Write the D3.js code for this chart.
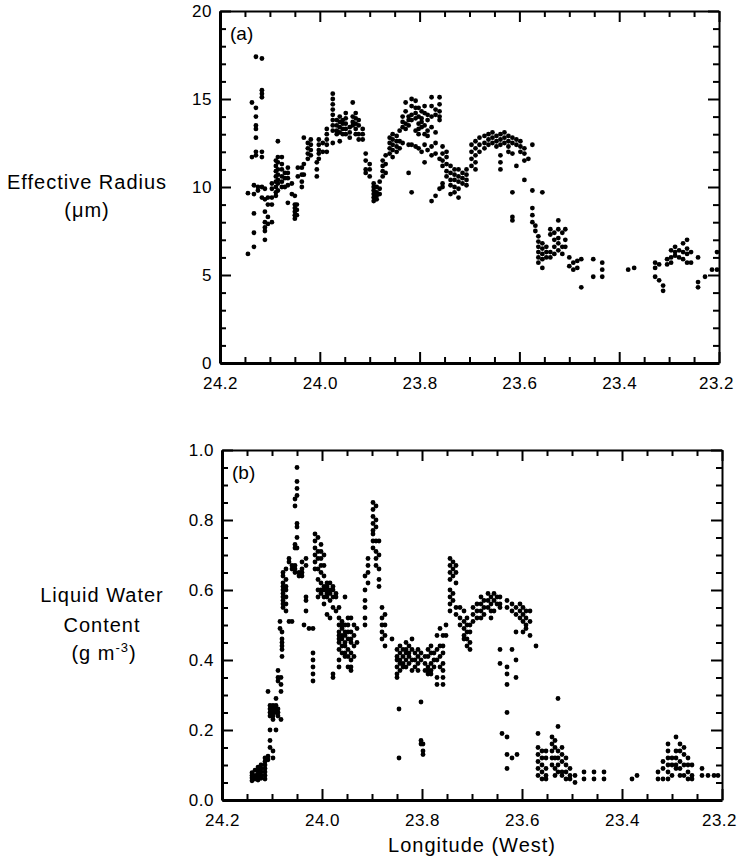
<!DOCTYPE html>
<html lang="en">
  <head>
    <meta charset="UTF-8" />
    <title>Effective radius and liquid water content</title>
    <style>
      body { margin: 0; background: #fff; }
      svg { display: block; font-family: "Liberation Sans", Arial, sans-serif; }
      .axis path, .axis line { stroke: #000; }
      .axis text { font-size: 17px; letter-spacing: 0.5px; fill: #000; }
      .title { font-size: 20px; letter-spacing: 1px; fill: #000; }
    </style>
  </head>
  <body>
    <svg id="chart" width="738" height="862"></svg>
    <script src="https://cdn.jsdelivr.net/npm/d3@7"></script>
    <script>
      // tick labels
      const lonTicks = [24.2, 24.0, 23.8, 23.6, 23.4, 23.2];
      const radiusTicks = [0, 5, 10, 15, 20];
      const lwcTicks = [0, 0.2, 0.4, 0.6, 0.8, 1.0];

      // effective radius (um): [longitude, [values at that longitude]]
      const radiusCols = [
        [24.144, [9.65, 6.2]], [24.136, [14.8, 11.7]], [24.132, [10.1, 9.6, 8.5, 7.4, 6.6]],
        [24.128, [17.4, 14.5, 14.0, 13.5, 13.3, 12.8, 12.0, 11.8]], [24.124, [10.0, 9.8]],
        [24.116, [17.3, 15.5, 15.3, 15.1, 12.0, 11.7, 10.0, 9.4]], [24.110, [9.9, 9.3, 8.6, 8.0, 7.7, 7.5, 7.0]],
        [24.104, [9.4, 9.0, 8.3, 7.9]], [24.096, [10.2, 9.9, 9.4, 9.0, 8.0]],
        [24.088, [11.5, 11.2, 10.9, 10.6, 10.3, 10.0, 9.7, 9.5]], [24.084, [12.6, 11.7, 11.4, 11.0, 10.7, 10.4, 10.2, 9.8]],
        [24.076, [11.7, 11.3, 11.0, 10.6, 10.3, 10.0]], [24.070, [10.8, 10.5, 10.0]],
        [24.064, [11.1, 10.8, 10.5, 10.1, 9.1]], [24.056, [10.2, 9.6]],
        [24.050, [9.5, 9.0, 8.8, 8.6, 8.4, 8.2]], [24.046, [9.0, 8.7, 8.4]], [24.044, [11.1, 10.6]],
        [24.036, [11.1, 10.7, 10.3, 10.0]], [24.032, [12.8, 11.3, 10.7]], [24.024, [12.5, 12.2, 11.9, 11.6]],
        [24.018, [12.7, 12.4, 12.1, 11.8]], [24.006, [11.4, 11.0, 10.6]], [24.002, [12.7, 12.4, 12.1, 11.9, 11.6]],
        [23.994, [12.5, 12.0]], [23.986, [13.3, 13.0, 12.7, 12.4, 12.0]],
        [23.974, [15.3, 15.0, 14.7, 14.4, 14.1, 13.8, 13.5, 13.2, 12.5]], [23.966, [13.8, 13.5, 13.2, 13.0]],
        [23.960, [14.0, 13.7, 13.4, 13.1, 12.6]], [23.954, [13.8, 13.6, 13.3, 13.0]],
        [23.948, [14.2, 13.9, 13.6, 13.3, 13.0]], [23.940, [13.4, 13.1, 12.8]], [23.934, [14.8, 14.0, 13.7, 13.5]],
        [23.928, [14.2, 13.9, 13.6, 13.3, 13.0]], [23.922, [13.8, 13.5, 13.0, 12.7]], [23.914, [13.3, 13.0, 12.7]],
        [23.908, [11.9, 11.5, 11.0, 10.8]], [23.900, [11.3, 11.0, 10.6]],
        [23.892, [10.2, 10.0, 9.8, 9.6, 9.4, 9.2]], [23.886, [10.0, 9.7, 9.5, 9.3]], [23.880, [10.3, 9.9, 9.6]],
        [23.874, [11.5, 11.2, 10.9, 10.6]], [23.868, [11.8, 11.3, 10.8]], [23.860, [12.8, 12.5, 12.2, 11.9]],
        [23.854, [13.0, 12.7, 12.4, 12.1, 11.7]], [23.846, [12.9, 12.6, 12.3, 12.0]], [23.840, [13.2, 12.6, 12.2]],
        [23.834, [14.0, 13.7, 13.4, 12.5]], [23.828, [14.8, 14.3, 13.6, 13.3]],
        [23.822, [14.0, 13.8, 13.5, 12.4, 10.8]], [23.816, [15.0, 14.6, 14.1, 13.8, 12.4, 9.7]],
        [23.808, [14.9, 14.5, 14.2, 13.9, 13.2, 12.3]], [23.802, [14.5, 14.0, 13.6, 13.3, 13.0, 12.2]],
        [23.796, [14.3, 13.9, 13.7, 13.4, 12.0]], [23.790, [14.6, 14.2, 13.5, 13.0, 12.4, 11.4]],
        [23.784, [14.1, 13.8, 13.2, 12.9, 12.1]], [23.776, [15.1, 14.6, 14.0, 13.4, 12.3, 11.8, 9.2]],
        [23.768, [14.4, 14.1, 13.1, 12.5, 11.9, 9.5]], [23.760, [15.1, 14.7, 14.3, 14.0, 13.8, 11.6, 9.9]],
        [23.754, [12.3, 11.9, 11.5, 11.2, 10.2, 10.0]], [23.746, [12.0, 11.7, 11.3, 10.9, 10.6]],
        [23.738, [11.2, 10.8, 10.4, 10.1, 9.6]], [23.730, [11.0, 10.7, 10.4, 10.0, 9.7]],
        [23.722, [11.0, 10.6, 10.3, 9.9, 9.4]], [23.714, [10.8, 10.5, 10.2]], [23.706, [11.0, 10.7, 10.4, 10.1]],
        [23.696, [12.4, 12.0, 11.6, 11.2]], [23.688, [12.6, 12.2, 11.8, 11.4, 11.0]], [23.680, [12.8, 12.4, 12.0]],
        [23.670, [12.9, 12.5, 12.2]], [23.662, [13.0, 12.7, 12.4]], [23.654, [13.1, 12.8, 12.5]],
        [23.646, [12.9, 12.6, 12.3]], [23.638, [13.0, 12.7, 12.4, 11.8, 11.4, 11.0]], [23.630, [13.1, 12.8, 12.5]],
        [23.622, [12.9, 12.6, 12.3, 12.0]], [23.614, [12.8, 12.5, 11.9, 9.7, 8.3, 8.1]],
        [23.606, [12.7, 12.4, 11.2]], [23.598, [12.6, 12.3, 12.0]], [23.590, [12.2, 11.9, 11.5, 10.4]],
        [23.582, [11.6]], [23.574, [12.4, 9.8, 8.8, 8.4, 8.0]], [23.568, [7.8, 7.5]],
        [23.562, [7.2, 6.9, 6.6, 6.3, 6.0, 5.7]], [23.554, [9.7, 6.8, 6.5, 6.2, 5.9, 5.4]],
        [23.546, [6.6, 6.3, 6.0]], [23.538, [7.6, 7.3, 6.3, 6.0]], [23.530, [7.4, 7.0, 6.6, 6.2]],
        [23.522, [8.1, 7.6, 7.1, 6.8, 6.4]], [23.514, [7.4, 6.6, 6.2]], [23.508, [7.6, 7.0, 6.6]],
        [23.500, [6.0, 5.5]], [23.492, [5.7, 5.3]], [23.484, [5.8, 5.4]], [23.476, [5.9, 4.3]],
        [23.452, [5.9, 4.9]], [23.434, [5.7, 5.3, 4.9]], [23.382, [5.3]], [23.370, [5.4]],
        [23.328, [5.7, 5.4, 4.9]], [23.320, [5.6, 4.7]], [23.312, [4.4, 4.1]], [23.304, [5.9, 5.6]],
        [23.296, [6.4, 6.0, 5.7]], [23.288, [6.6, 6.3, 6.1]], [23.280, [6.4, 6.0]], [23.272, [6.8, 6.3, 5.9]],
        [23.264, [7.0, 6.5, 6.2, 5.7]], [23.256, [6.3, 5.7]], [23.242, [6.0, 4.6, 4.3]],
        [23.228, [4.9]], [23.214, [5.3]], [23.204, [6.3, 5.3]]
      ];

      // liquid water content (g m-3): [longitude, [values at that longitude]]
      const lwcCols = [
        [24.140, [0.078, 0.070, 0.063, 0.055]], [24.134, [0.085, 0.070, 0.060]],
        [24.128, [0.094, 0.085, 0.075, 0.066, 0.057]], [24.122, [0.100, 0.090, 0.080, 0.070, 0.062]],
        [24.114, [0.120, 0.110, 0.100, 0.090, 0.080, 0.070, 0.060]], [24.108, [0.31, 0.125, 0.115]],
        [24.104, [0.27, 0.26, 0.25, 0.24, 0.20, 0.17, 0.15]], [24.098, [0.27, 0.26, 0.25, 0.24, 0.23, 0.14, 0.12]],
        [24.092, [0.29, 0.27, 0.26, 0.25, 0.20]], [24.088, [0.37, 0.35, 0.34, 0.26, 0.25, 0.24]],
        [24.082, [0.35, 0.33, 0.31, 0.23]], [24.084, [0.51, 0.49]],
        [24.080, [0.48, 0.46, 0.45, 0.44, 0.43, 0.41]],
        [24.078, [0.65, 0.64, 0.62, 0.61, 0.60, 0.59, 0.58, 0.57, 0.56, 0.55]],
        [24.072, [0.66, 0.63, 0.61, 0.60, 0.58, 0.56, 0.54]], [24.066, [0.69, 0.68, 0.51]],
        [24.060, [0.67, 0.66, 0.51]], [24.054, [0.86, 0.84, 0.73, 0.72, 0.67, 0.66, 0.65]],
        [24.050, [0.95, 0.91, 0.89, 0.87, 0.79, 0.78, 0.75, 0.72]], [24.046, [0.65, 0.64]],
        [24.040, [0.68, 0.66, 0.65, 0.64]], [24.036, [0.50]], [24.032, [0.69, 0.67, 0.58, 0.57, 0.54]],
        [24.026, [0.49]], [24.018, [0.49, 0.42, 0.40, 0.38, 0.36, 0.34]],
        [24.014, [0.76, 0.74, 0.72, 0.70, 0.68, 0.66]], [24.008, [0.75, 0.71, 0.69, 0.66, 0.63, 0.60, 0.58]],
        [24.002, [0.73, 0.71, 0.69, 0.67, 0.65, 0.62, 0.60, 0.59]],
        [23.996, [0.70, 0.67, 0.64, 0.61, 0.60, 0.58, 0.56]], [23.990, [0.62, 0.61, 0.60, 0.59, 0.58, 0.53]],
        [23.984, [0.62, 0.60, 0.59, 0.57, 0.52]], [23.978, [0.61, 0.60, 0.58, 0.55, 0.36, 0.35]],
        [23.972, [0.59, 0.58, 0.54]], [23.966, [0.55, 0.52, 0.50, 0.48, 0.47, 0.46, 0.45, 0.43, 0.40, 0.38]],
        [23.960, [0.51, 0.50, 0.49, 0.47, 0.46, 0.44, 0.42]],
        [23.954, [0.58, 0.50, 0.48, 0.47, 0.45, 0.44, 0.42, 0.41]],
        [23.948, [0.52, 0.50, 0.48, 0.46, 0.43, 0.41, 0.38]],
        [23.942, [0.52, 0.48, 0.46, 0.45, 0.42, 0.40, 0.38, 0.37]], [23.936, [0.50, 0.47, 0.44, 0.41]],
        [23.930, [0.49, 0.45]], [23.914, [0.64, 0.60, 0.57, 0.55, 0.52, 0.50]], [23.908, [0.69, 0.67, 0.65, 0.62]],
        [23.898, [0.85, 0.83, 0.81, 0.79, 0.77, 0.76, 0.74, 0.72]], [23.892, [0.84, 0.80, 0.78, 0.74, 0.71, 0.69, 0.67]],
        [23.886, [0.74, 0.70, 0.66, 0.63, 0.61]], [23.880, [0.55, 0.52, 0.50, 0.48, 0.46]],
        [23.874, [0.53, 0.50, 0.47, 0.44]], [23.860, [0.46]], [23.850, [0.43, 0.41, 0.40, 0.38, 0.36, 0.35]],
        [23.846, [0.26, 0.12]], [23.844, [0.44, 0.42, 0.40, 0.39, 0.37]], [23.838, [0.43, 0.41, 0.39, 0.38]],
        [23.832, [0.45, 0.43, 0.42, 0.40, 0.38]], [23.826, [0.44, 0.42, 0.41, 0.39]],
        [23.820, [0.46, 0.43, 0.40, 0.37]], [23.814, [0.42, 0.40, 0.38]], [23.808, [0.43, 0.41, 0.39, 0.37]],
        [23.802, [0.42, 0.40, 0.28, 0.17, 0.16]], [23.798, [0.16, 0.14, 0.13]], [23.794, [0.41, 0.39, 0.37]],
        [23.788, [0.43, 0.41, 0.38, 0.37, 0.36]], [23.782, [0.44, 0.42, 0.39, 0.37, 0.36]],
        [23.776, [0.42, 0.40, 0.38]], [23.770, [0.47, 0.43, 0.40, 0.35, 0.33]], [23.764, [0.49, 0.44, 0.41, 0.38]],
        [23.758, [0.47, 0.44, 0.42, 0.39, 0.37, 0.35, 0.33]], [23.752, [0.50, 0.47]],
        [23.744, [0.69, 0.67, 0.65, 0.63, 0.60, 0.58, 0.56, 0.54]], [23.738, [0.68, 0.66, 0.64, 0.59, 0.57]],
        [23.732, [0.67, 0.65, 0.62, 0.55, 0.53]], [23.724, [0.55, 0.52, 0.50]],
        [23.716, [0.54, 0.51, 0.49, 0.47, 0.46]], [23.710, [0.52, 0.50, 0.48, 0.46, 0.44]],
        [23.704, [0.50, 0.48, 0.45, 0.43]], [23.698, [0.55, 0.53, 0.51]], [23.690, [0.56, 0.54, 0.52]],
        [23.682, [0.58, 0.56, 0.54, 0.52]], [23.676, [0.57, 0.55, 0.53]], [23.668, [0.59, 0.57, 0.55]],
        [23.662, [0.58, 0.56, 0.54, 0.52]], [23.656, [0.59, 0.57, 0.54]],
        [23.650, [0.58, 0.56]], [23.644, [0.58, 0.56, 0.55, 0.43, 0.39]], [23.640, [0.19]],
        [23.630, [0.57, 0.55, 0.38, 0.36, 0.33, 0.25, 0.18, 0.13, 0.09]], [23.620, [0.56, 0.54, 0.43, 0.12]],
        [23.612, [0.55, 0.53, 0.48, 0.40, 0.35]], [23.610, [0.13]], [23.604, [0.56, 0.54, 0.52]],
        [23.598, [0.55, 0.53, 0.51, 0.48]], [23.592, [0.54, 0.52, 0.50, 0.49]],
        [23.584, [0.54, 0.51, 0.47]], [23.572, [0.44]],
        [23.568, [0.19, 0.15, 0.13, 0.11, 0.09, 0.07]], [23.560, [0.14, 0.12, 0.10, 0.08, 0.06]],
        [23.552, [0.14, 0.12, 0.09, 0.07, 0.06]], [23.540, [0.18, 0.16, 0.14, 0.12, 0.10]],
        [23.534, [0.17, 0.15, 0.12, 0.09, 0.07]], [23.528, [0.29, 0.21, 0.14, 0.12, 0.10, 0.08]],
        [23.520, [0.15, 0.13, 0.11, 0.08, 0.07]], [23.512, [0.12, 0.10, 0.08, 0.06]],
        [23.504, [0.09, 0.07, 0.06]], [23.494, [0.07, 0.05]], [23.476, [0.08, 0.06]],
        [23.456, [0.08, 0.06]], [23.436, [0.08, 0.06]], [23.380, [0.06]], [23.370, [0.07]],
        [23.328, [0.08, 0.06]], [23.318, [0.11, 0.09, 0.06]], [23.308, [0.16, 0.14, 0.12, 0.10, 0.08, 0.06]],
        [23.300, [0.12, 0.10, 0.07]], [23.292, [0.18, 0.14, 0.12, 0.10, 0.09]],
        [23.284, [0.16, 0.14, 0.11, 0.09, 0.07]], [23.276, [0.15, 0.13, 0.10, 0.07]],
        [23.268, [0.12, 0.10, 0.08, 0.06]], [23.260, [0.10, 0.07, 0.06]], [23.240, [0.09, 0.07]],
        [23.228, [0.07]], [23.216, [0.07]], [23.208, [0.07]]
      ];

      const svg = d3.select("#chart");

      function flatten(cols) {
        return cols.flatMap(([lon, vals]) => vals.map((v) => ({ lon, v })));
      }

      function drawPanel(opt) {
        const x = d3.scaleLinear().domain([24.2, 23.2]).range([opt.left, opt.right]);
        const y = d3.scaleLinear().domain([0, opt.max]).range([opt.bottom, opt.top]);
        const g = svg.append("g");
        const minorX = d3.range(24.15, 23.2, -0.05).filter((d) => Math.abs(d * 5 - Math.round(d * 5)) > 0.01);
        const minorY = d3.range(0, opt.max + 1e-9, opt.minor).filter((d) => !opt.ticks.some((t) => Math.abs(t - d) < 1e-9));

        const add = (axis, tr, w) => {
          const a = g.append("g").attr("class", "axis").attr("transform", tr).call(axis);
          a.select(".domain").attr("stroke-width", w);
          a.selectAll(".tick line").attr("stroke-width", 2);
          return a;
        };

        // minor ticks first
        add(d3.axisBottom(x).tickValues(minorX).tickSize(-6).tickSizeOuter(0).tickFormat(""), `translate(0,${opt.bottom})`, 0);
        add(d3.axisTop(x).tickValues(minorX).tickSize(-6).tickSizeOuter(0).tickFormat(""), `translate(0,${opt.top})`, 0);
        add(d3.axisLeft(y).tickValues(minorY).tickSize(-6).tickSizeOuter(0).tickFormat(""), `translate(${opt.left},0)`, 0);
        add(d3.axisRight(y).tickValues(minorY).tickSize(-6).tickSizeOuter(0).tickFormat(""), `translate(${opt.right},0)`, 0);

        const xb = add(d3.axisBottom(x).tickValues(lonTicks).tickSize(-11).tickSizeOuter(0).tickPadding(14).tickFormat(d3.format(".1f")),
          `translate(0,${opt.bottom})`, 3);
        // last label sits against the page edge, as in the original
        xb.selectAll(".tick text").filter((d) => d === 23.2).attr("dx", -3);
        add(d3.axisTop(x).tickValues(lonTicks).tickSize(-11).tickSizeOuter(0).tickFormat(""), `translate(0,${opt.top})`, 2);
        add(d3.axisLeft(y).tickValues(opt.ticks).tickSize(-11).tickSizeOuter(0).tickPadding(8).tickFormat(opt.fmt),
          `translate(${opt.left},0)`, 3);
        add(d3.axisRight(y).tickValues(opt.ticks).tickSize(-11).tickSizeOuter(0).tickFormat(""), `translate(${opt.right},0)`, 2);

        g.append("g")
          .selectAll("circle")
          .data(flatten(opt.cols))
          .join("circle")
          .attr("cx", (d) => x(d.lon))
          .attr("cy", (d) => y(d.v))
          .attr("r", 2.4)
          .attr("fill", "#000");

        g.append("text").attr("x", opt.left + 10).attr("y", opt.top + 29)
          .attr("font-size", 19).text(opt.tag);
      }

      drawPanel({ left: 220, right: 719, top: 11, bottom: 363, max: 20, minor: 1,
        ticks: radiusTicks, fmt: d3.format("d"), cols: radiusCols, tag: "(a)" });
      drawPanel({ left: 222, right: 722, top: 450, bottom: 800, max: 1.0, minor: 0.05,
        ticks: lwcTicks, fmt: d3.format(".1f"), cols: lwcCols, tag: "(b)" });

      // axis titles
      svg.append("text").attr("class", "title").attr("x", 87).attr("y", 189)
        .attr("text-anchor", "middle").text("Effective Radius");
      svg.append("text").attr("class", "title").attr("x", 87).attr("y", 217)
        .attr("text-anchor", "middle").text("(μm)");

      svg.append("text").attr("class", "title").attr("x", 102).attr("y", 602)
        .attr("text-anchor", "middle").text("Liquid Water");
      svg.append("text").attr("class", "title").attr("x", 102).attr("y", 632)
        .attr("text-anchor", "middle").text("Content");
      const unit = svg.append("text").attr("class", "title").attr("x", 104).attr("y", 660)
        .attr("text-anchor", "middle");
      unit.append("tspan").text("(g m");
      unit.append("tspan").attr("font-size", 13).attr("dy", -8).text("-3");
      unit.append("tspan").attr("dy", 8).text(")");

      svg.append("text").attr("class", "title").attr("x", 472).attr("y", 852)
        .attr("text-anchor", "middle").text("Longitude (West)");
    </script>
  </body>
</html>
